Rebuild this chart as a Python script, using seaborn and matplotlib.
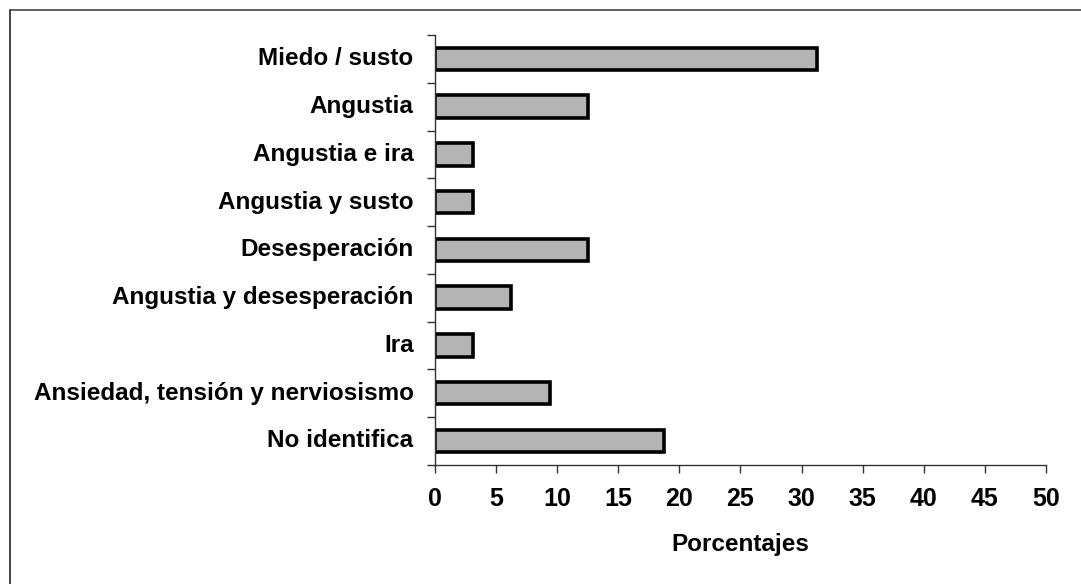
import matplotlib
matplotlib.use("Agg")
import matplotlib.pyplot as plt
import seaborn as sns
import pandas as pd
from matplotlib.lines import Line2D

categories = ["Miedo / susto", "Angustia", "Angustia e ira", "Angustia y susto",
              "Desesperación", "Angustia y desesperación", "Ira",
              "Ansiedad, tensión y nerviosismo", "No identifica"]
values = [31.25, 12.5, 3.125, 3.125, 12.5, 6.25, 3.125, 9.375, 18.75]
xticks = [0, 5, 10, 15, 20, 25, 30, 35, 40, 45, 50]

df = pd.DataFrame({"cat": categories, "val": values})

sns.set_theme(style="white")
plt.rcParams['font.family'] = ['Liberation Sans', 'DejaVu Sans']
plt.rcParams['text.color'] = 'black'
plt.rcParams['xtick.color'] = 'black'
plt.rcParams['ytick.color'] = 'black'
plt.rcParams['axes.labelcolor'] = 'black'

fig = plt.figure(figsize=(10.81, 5.84), dpi=100)
ax = fig.add_axes([0.4024, 0.204, 0.5652, 0.736])

sns.barplot(data=df, x="val", y="cat", orient="h", color="#b4b4b4",
            edgecolor="black", linewidth=2.6, width=0.47, ax=ax, saturation=1)

ax.set_xlim(0, 50)
ax.set_ylim(len(categories) - 0.5, -0.5)
ax.set_xticks(xticks)
ax.set_xticklabels([str(t) for t in xticks], fontsize=18, fontweight="bold")
ax.set_yticks([i - 0.5 for i in range(len(categories) + 1)], minor=False)
ax.set_yticklabels([""] * (len(categories) + 1))
for i, c in enumerate(categories):
    ax.text(-0.035, i, c, transform=ax.get_yaxis_transform(), ha="right",
            va="center", fontsize=17.5, fontweight="bold", color="black")

ax.set_xlabel("Porcentajes", fontsize=17.5, fontweight="bold", labelpad=16)
ax.set_ylabel("")

for s in ["top", "right"]:
    ax.spines[s].set_visible(False)
for s in ["left", "bottom"]:
    ax.spines[s].set_color("#333333")
    ax.spines[s].set_linewidth(1.0)

ax.tick_params(axis="x", bottom=True, direction="out", length=6, width=1, color="#333333", pad=10)
ax.tick_params(axis="y", left=True, direction="out", length=6, width=1, color="#333333")

fig.add_artist(Line2D([10 / 1081, 10 / 1081], [0, 1 - 10 / 584], transform=fig.transFigure,
                      color="#222222", lw=1.2))
fig.add_artist(Line2D([10 / 1081, 1], [1 - 10 / 584, 1 - 10 / 584], transform=fig.transFigure,
                      color="#444444", lw=1.2))

fig.savefig("out.png", dpi=100)
